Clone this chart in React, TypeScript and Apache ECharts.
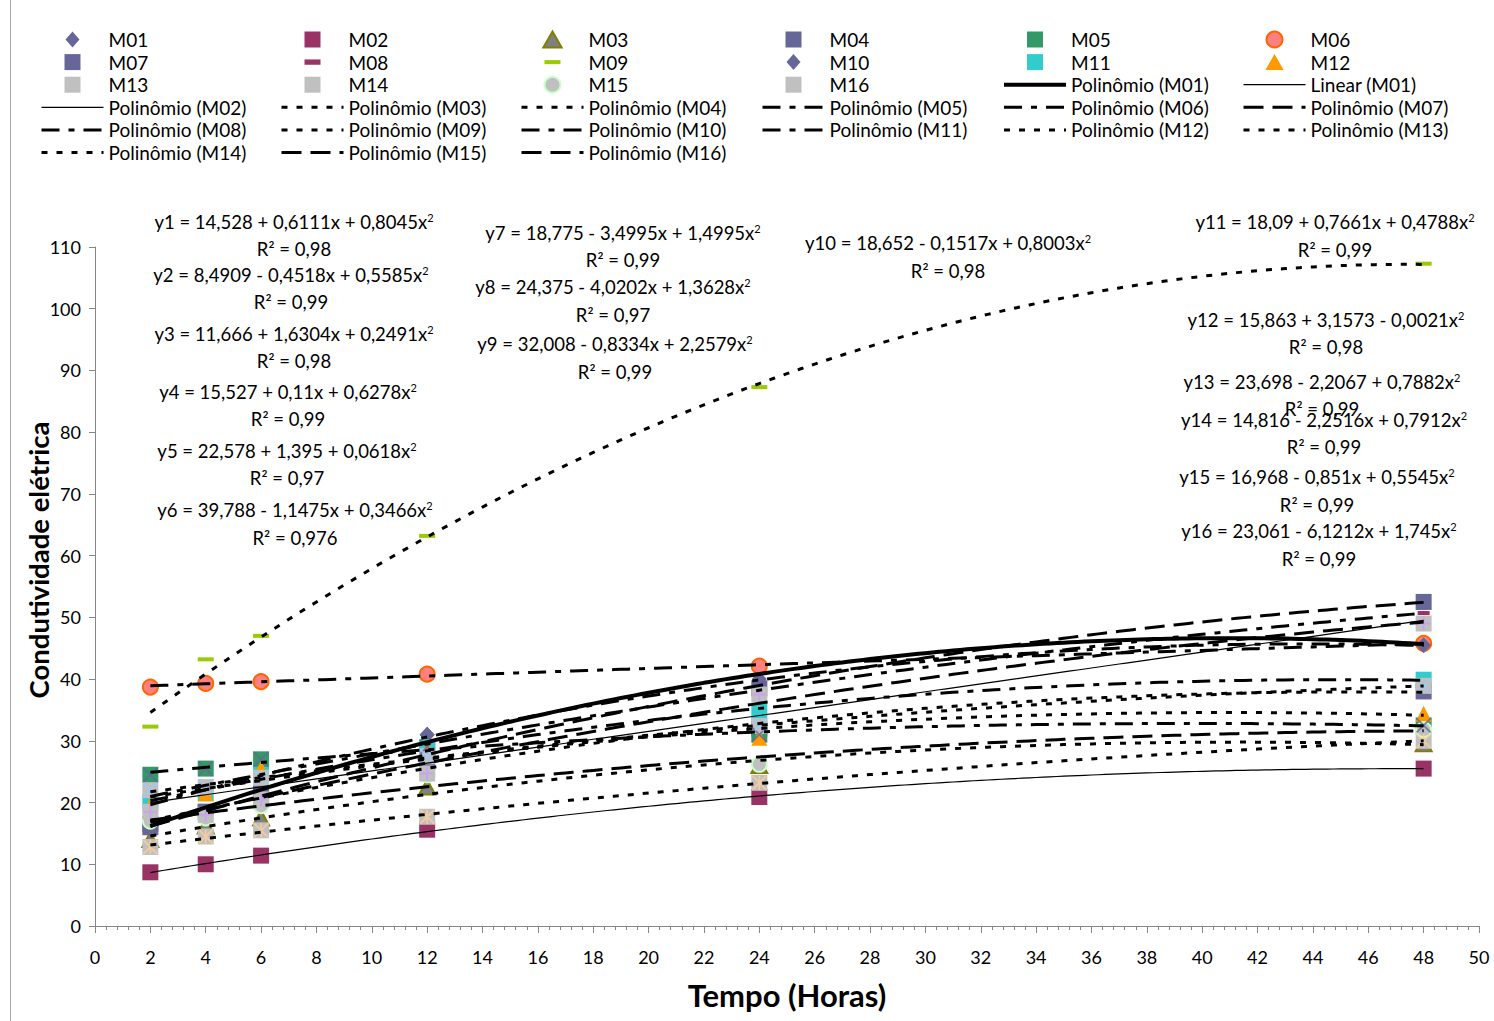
import React, { useEffect, useRef } from "react";
import * as echarts from "echarts";

// ---------------- DATA ----------------
const hours = [2, 4, 6, 12, 24, 48];
const M01 = [16.0, 18.5, 22.5, 31.0, 40.0, 45.8];
const M02 = [8.7, 10.0, 11.4, 15.6, 20.9, 25.5];
const M03 = [14.0, 16.2, 17.5, 22.5, 26.0, 29.5];
const M04 = [16.5, 18.5, 21.5, 26.5, 32.0, 38.0];
const M05 = [24.5, 25.5, 27.0, 29.0, 31.0, 32.5];
const M06 = [38.7, 39.3, 39.6, 40.8, 42.1, 45.8];
const M07 = [16.0, 18.5, 21.0, 28.5, 38.5, 52.5];
const M08 = [21.5, 22.0, 24.5, 30.0, 38.0, 50.7];
const M09 = [32.3, 43.2, 47.0, 63.2, 87.3, 107.3];
const M10 = [19.5, 21.5, 25.0, 31.0, 39.5, 45.5];
const M11 = [20.0, 21.5, 24.5, 29.0, 34.7, 39.9];
const M12 = [19.5, 21.5, 25.5, 28.5, 30.5, 34.4];
const M13 = [22.0, 22.5, 24.0, 27.5, 32.4, 38.9];
const M14 = [12.8, 14.5, 15.5, 17.7, 23.2, 30.0];
const M15 = [17.0, 17.5, 19.5, 24.5, 26.2, 31.8];
const M16 = [18.5, 18.0, 20.5, 24.7, 37.5, 49.0];

const seriesNames = ["M01","M02","M03","M04","M05","M06","M07","M08","M09","M10","M11","M12","M13","M14","M15","M16"];
const seriesValues = [M01,M02,M03,M04,M05,M06,M07,M08,M09,M10,M11,M12,M13,M14,M15,M16];

const equationTexts = [
  ["y1 = 14,528 + 0,6111x + 0,8045x", "R² = 0,98"],
  ["y2 = 8,4909 - 0,4518x + 0,5585x", "R² = 0,99"],
  ["y3 = 11,666 + 1,6304x + 0,2491x", "R² = 0,98"],
  ["y4 = 15,527 + 0,11x + 0,6278x", "R² = 0,99"],
  ["y5 = 22,578 + 1,395 + 0,0618x", "R² = 0,97"],
  ["y6 = 39,788 - 1,1475x + 0,3466x", "R² = 0,976"],
  ["y7 = 18,775 - 3,4995x + 1,4995x", "R² = 0,99"],
  ["y8 = 24,375 - 4,0202x + 1,3628x", "R² = 0,97"],
  ["y9 = 32,008 - 0,8334x + 2,2579x", "R² = 0,99"],
  ["y10 = 18,652 - 0,1517x + 0,8003x", "R² = 0,98"],
  ["y11 = 18,09 + 0,7661x + 0,4788x", "R² = 0,99"],
  ["y12 = 15,863 + 3,1573 - 0,0021x", "R² = 0,98"],
  ["y13 = 23,698 - 2,2067 + 0,7882x", "R² = 0,99"],
  ["y14 = 14,816 - 2,2516x + 0,7912x", "R² = 0,99"],
  ["y15 = 16,968 - 0,851x + 0,5545x", "R² = 0,99"],
  ["y16 = 23,061 - 6,1212x + 1,745x", "R² = 0,99"],
];

// ---------------- LAYOUT / STYLE ----------------
const FONT = "Lato";
const eqPos = [
  [294, 222, 249], [291, 275, 302], [294, 334, 361], [288, 392, 419], [287, 451, 478], [295, 510, 538],
  [623, 233, 260], [613, 287, 315], [615, 344, 372], [948, 243, 271],
  [1335, 222, 250], [1326, 320, 347], [1322, 382, 409], [1324, 420, 447], [1317, 477, 505], [1319, 531, 559],
];

const SQ = "path://M0,0L10,0L10,10L0,10Z";
const DIA = "path://M7,0L14,8L7,16L0,8Z";
const TRI = "path://M8,0L16,14L0,14Z";
const DASH8 = "path://M0,0M12,12M0,4L12,4L12,8L0,8Z";
const DASH9 = "path://M0,0M16,16M0,6L16,6L16,10L0,10Z";
const XMARK = "path://M0,0L10,10M10,0L0,10";
const STAR = "path://M0,0L10,10M10,0L0,10M5,0L5,10";
const PLUS = "path://M5,0L5,10M0,5L10,5";

const markerStyles: any[] = [
  { symbol: DIA, size: [15, 16], color: "#666699" },
  { symbol: SQ, size: 16, color: "#993366" },
  { symbol: TRI, size: [16, 15], color: "#808080", border: "#808000", bw: 2 },
  { symbol: SQ, size: 16, color: "#666699" },
  { symbol: SQ, size: 16, color: "#339966", overlay: XMARK, oc: "#666699" },
  { symbol: "circle", size: 15, color: "#FF8080", border: "#FF6600", bw: 2 },
  { symbol: SQ, size: 16, color: "#666699" },
  { symbol: DASH8, size: 12, color: "#993366" },
  { symbol: DASH9, size: 16, color: "#99CC00" },
  { symbol: DIA, size: [15, 16], color: "#666699" },
  { symbol: SQ, size: 16, color: "#33CCCC" },
  { symbol: TRI, size: [16, 16], color: "#FF9900" },
  { symbol: SQ, size: 16, color: "#C0C0C0", overlay: XMARK, oc: "#99CCFF" },
  { symbol: SQ, size: 16, color: "#C0C0C0", overlay: STAR, oc: "#FFCC99" },
  { symbol: "circle", size: 15, color: "#C0C0C0", border: "#CCFFCC", bw: 2 },
  { symbol: SQ, size: 16, color: "#C0C0C0", overlay: PLUS, oc: "#CC99FF" },
];

const SHORT = [6, 9];
const LDD = [18, 9, 6, 9];
const LONG = [20, 9];
const trendStyles: any[] = [
  { width: 4, type: "solid" }, // M01
  { width: 1.2, type: "solid" }, // M02
  { width: 3, type: SHORT }, // M03
  { width: 3, type: SHORT }, // M04
  { width: 3, type: LDD }, // M05
  { width: 3, type: LDD }, // M06
  { width: 3, type: LONG }, // M07
  { width: 3, type: LDD }, // M08
  { width: 3, type: SHORT }, // M09
  { width: 3, type: LDD }, // M10
  { width: 3, type: LDD }, // M11
  { width: 3, type: SHORT }, // M12
  { width: 3, type: SHORT }, // M13
  { width: 3, type: SHORT }, // M14
  { width: 3, type: LONG }, // M15
  { width: 3, type: LONG }, // M16
];

const legendCols = [
  ["M01", "M07", "M13", "Polinômio (M02)", "Polinômio (M08)", "Polinômio (M14)"],
  ["M02", "M08", "M14", "Polinômio (M03)", "Polinômio (M09)", "Polinômio (M15)"],
  ["M03", "M09", "M15", "Polinômio (M04)", "Polinômio (M10)", "Polinômio (M16)"],
  ["M04", "M10", "M16", "Polinômio (M05)", "Polinômio (M11)"],
  ["M05", "M11", "Polinômio (M01)", "Polinômio (M06)", "Polinômio (M12)"],
  ["M06", "M12", "Linear (M01)", "Polinômio (M07)", "Polinômio (M13)"],
];
const legendLefts = [35, 275, 515, 756, 997, 1237];

// ---------------- REGRESSION ----------------
function polyfit(xs: number[], ys: number[], deg: number): number[] {
  const n = deg + 1;
  const A: number[][] = [];
  for (let i = 0; i < n; i++) {
    const row: number[] = [];
    for (let j = 0; j < n; j++) {
      let s = 0;
      xs.forEach((x) => (s += Math.pow(x, i + j)));
      row.push(s);
    }
    let b = 0;
    xs.forEach((x, k) => (b += ys[k] * Math.pow(x, i)));
    row.push(b);
    A.push(row);
  }
  for (let c = 0; c < n; c++) {
    let p = c;
    for (let r = c + 1; r < n; r++) if (Math.abs(A[r][c]) > Math.abs(A[p][c])) p = r;
    [A[c], A[p]] = [A[p], A[c]];
    for (let r = 0; r < n; r++) {
      if (r === c) continue;
      const f = A[r][c] / A[c][c];
      for (let k = c; k <= n; k++) A[r][k] -= f * A[c][k];
    }
  }
  return A.map((row, i) => row[n] / row[i]);
}
function trendData(xs: number[], ys: number[], deg: number) {
  const co = polyfit(xs, ys, deg);
  const out: number[][] = [];
  const x0 = xs[0];
  const x1 = xs[xs.length - 1];
  for (let x = x0; x <= x1 + 1e-9; x += 0.25) {
    let y = 0;
    co.forEach((c, i) => (y += c * Math.pow(x, i)));
    out.push([x, y]);
  }
  return out;
}

export default function App() {
  const ref = useRef<HTMLDivElement>(null);
  useEffect(() => {
    if (!ref.current) return;
    const chart = echarts.init(ref.current, null, { renderer: "svg", width: 1494, height: 1021 });

    const series: any[] = [];
    seriesNames.forEach((name, i) => {
      const m = markerStyles[i];
      series.push({
        name,
        type: "scatter",
        data: hours.map((h, k) => [h, seriesValues[i][k]]),
        symbol: m.symbol,
        symbolSize: m.size,
        itemStyle: {
          color: m.color,
          borderColor: m.border || m.color,
          borderWidth: m.bw || 0,
          opacity: 1,
        },
        z: 2,
      });
      if (m.overlay) {
        series.push({
          name: name + " marca",
          type: "scatter",
          data: hours.map((h, k) => [h, seriesValues[i][k]]),
          symbol: m.overlay,
          symbolSize: 14,
          itemStyle: { color: "rgba(0,0,0,0)", borderColor: m.oc, borderWidth: 1.8 },
          z: 3,
        });
      }
    });
    const addTrend = (name: string, vals: number[], deg: number, st: any) => {
      series.push({
        name,
        type: "line",
        data: trendData(hours, vals, deg),
        showSymbol: false,
        symbol: "none",
        smooth: false,
        itemStyle: { color: "rgba(0,0,0,0)" },
        lineStyle: { color: "#000", width: st.width, type: st.type, cap: "butt" },
        z: 5,
      });
    };
    addTrend("Polinômio (M01)", M01, 2, trendStyles[0]);
    addTrend("Linear (M01)", M01, 1, { width: 1.2, type: "solid" });
    for (let i = 1; i < 16; i++) addTrend("Polinômio (" + seriesNames[i] + ")", seriesValues[i], 2, trendStyles[i]);

    const legends = legendCols.map((col, ci) => ({
      orient: "vertical",
      left: legendLefts[ci],
      top: 25,
      itemWidth: 62,
      itemHeight: 16,
      itemGap: 3.6,
      selectedMode: false,
      data: col,
      textStyle: { fontSize: 19, color: "#000", fontFamily: FONT, lineHeight: 14 },
      lineStyle: { width: "inherit" },
      itemStyle: { opacity: "inherit" },
    }));

    const graphics: any[] = [
      { type: "line", shape: { x1: 10.5, y1: 0, x2: 10.5, y2: 1021 }, style: { stroke: "#A6A6A6", lineWidth: 1 } },
      {
        type: "text",
        x: 38,
        y: 560,
        rotation: Math.PI / 2,
        style: { text: "Condutividade elétrica", fontSize: 27.5, fontWeight: "bold", fontFamily: FONT, fill: "#000", align: "center", verticalAlign: "middle" },
      },
      {
        type: "text",
        x: 787,
        y: 995,
        style: { text: "Tempo (Horas)", fontSize: 31, fontWeight: "bold", fontFamily: FONT, fill: "#000", align: "center", verticalAlign: "middle" },
      },
    ];
    equationTexts.forEach((eq, i) => {
      const p = eqPos[i];
      graphics.push({
        type: "text",
        x: p[0],
        y: p[1],
        z: 10,
        style: {
          text: eq[0] + "{sup|2}",
          fontSize: 18.5,
          fontFamily: FONT,
          fill: "#000",
          align: "center",
          verticalAlign: "middle",
          rich: { sup: { fontSize: 11, fontFamily: FONT, fill: "#000", padding: [0, 0, 10, 0] } },
        },
      });
      graphics.push({
        type: "text",
        x: p[0],
        y: p[2],
        z: 9,
        style: { text: eq[1], fontSize: 18.5, fontFamily: FONT, fill: "#000", align: "center", verticalAlign: "middle" },
      });
    });

    chart.setOption({
      animation: false,
      backgroundColor: "#fff",
      grid: { left: 95, right: 15, top: 247, bottom: 95, containLabel: false },
      legend: legends,
      xAxis: {
        type: "value",
        min: 0,
        max: 50,
        interval: 2,
        axisLine: { show: true, lineStyle: { color: "#868686", width: 1 } },
        axisTick: { show: true, length: 7, lineStyle: { color: "#868686" } },
        minorTick: { show: true, splitNumber: 5, length: 4, lineStyle: { color: "#868686" } },
        splitLine: { show: false },
        axisLabel: { fontSize: 18, color: "#000", fontFamily: FONT, margin: 22 },
      },
      yAxis: {
        type: "value",
        min: 0,
        max: 110,
        interval: 10,
        axisLine: { show: true, lineStyle: { color: "#868686", width: 1 } },
        axisTick: { show: true, length: 6, lineStyle: { color: "#868686" } },
        splitLine: { show: false },
        axisLabel: { fontSize: 18, color: "#000", fontFamily: FONT, margin: 14 },
      },
      graphic: graphics,
      series,
    });
    return () => chart.dispose();
  }, []);
  return <div ref={ref} style={{ position: "fixed", left: 0, top: 0, width: 1494, height: 1021, background: "#fff" }} />;
}
